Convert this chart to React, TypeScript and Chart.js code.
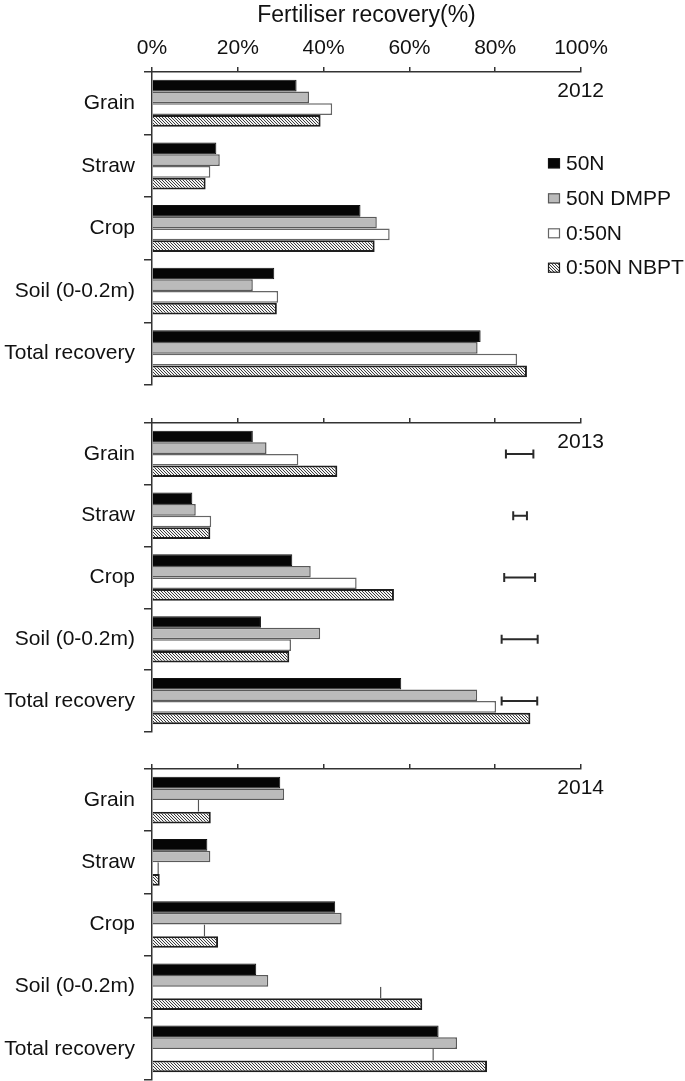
import React, { useEffect, useRef } from 'react';
import { Chart, registerables } from 'chart.js';

Chart.register(...registerables);

const FONT = '"Liberation Sans", Arial, Helvetica, sans-serif';
Chart.defaults.font.family = FONT;

// ---------- data ----------
const categories = ['Grain', 'Straw', 'Crop', 'Soil (0-0.2m)', 'Total recovery'];
const seriesNames = ['50N', '50N DMPP', '0:50N', '0:50N NBPT'];
const xTickValues = [0, 20, 40, 60, 80, 100];
const axisTitle = 'Fertiliser recovery(%)';

const r2012_50N = [33.7, 15.0, 48.6, 28.5, 76.6];
const r2012_DMPP = [36.6, 15.8, 52.4, 23.5, 75.9];
const r2012_050N = [42.0, 13.6, 55.4, 29.4, 85.1];
const r2012_NBPT = [39.3, 12.5, 51.9, 29.1, 87.4];

const r2013_50N = [23.5, 9.4, 32.7, 25.4, 58.1];
const r2013_DMPP = [26.7, 10.2, 37.0, 39.2, 75.8];
const r2013_050N = [34.1, 13.8, 47.7, 32.4, 80.2];
const r2013_NBPT = [43.2, 13.6, 56.4, 32.0, 88.2];

// LSD bars shown in the 2013 panel (start and end, %)
const lsd2013Low = [82.5, 84.2, 82.1, 81.5, 81.5];
const lsd2013High = [88.9, 87.4, 89.3, 89.9, 89.8];

const r2014_50N = [29.9, 12.9, 42.7, 24.3, 66.8];
const r2014_DMPP = [30.8, 13.6, 44.2, 27.1, 71.1];
const r2014_050N = [11.0, 1.6, 12.4, 53.5, 65.7];
const r2014_NBPT = [13.7, 1.8, 15.4, 63.0, 78.1];

// ---------- styling helpers ----------
function makeHatch(): CanvasPattern | string {
  const c = document.createElement('canvas');
  c.width = 3;
  c.height = 3;
  const g = c.getContext('2d');
  if (!g) return '#bbb';
  g.fillStyle = '#f4f4f4';
  g.fillRect(0, 0, 3, 3);
  g.fillStyle = '#3c3c3c';
  for (let i = 0; i < 3; i++) g.fillRect(i, i, 1, 1);
  const p = g.createPattern(c, 'repeat');
  return p || '#bbb';
}

type PanelCfg = {
  year: string;
  top: number;
  axisH: number;
  height: number;
  padBottom: number;
  series: number[][];
  first: boolean;
  whiteEndOnly: boolean;
  errLow?: number[];
  errHigh?: number[];
};

const panels: PanelCfg[] = [
  { year: '2012', top: 0, axisH: 72, height: 392, padBottom: 7, series: [r2012_50N, r2012_DMPP, r2012_050N, r2012_NBPT], first: true, whiteEndOnly: false },
  { year: '2013', top: 400, axisH: 23, height: 340, padBottom: 8, series: [r2013_50N, r2013_DMPP, r2013_050N, r2013_NBPT], first: false, whiteEndOnly: false, errLow: lsd2013Low, errHigh: lsd2013High },
  { year: '2014', top: 745, axisH: 24, height: 336, padBottom: 1, series: [r2014_50N, r2014_DMPP, r2014_050N, r2014_NBPT], first: false, whiteEndOnly: true },
];

const W = 685;

function Panel({ cfg }: { cfg: PanelCfg }) {
  const ref = useRef<HTMLCanvasElement | null>(null);
  useEffect(() => {
    const canvas = ref.current;
    if (!canvas) return;
    const hatch = makeHatch();
    const fills = ['#060606', '#bbbbbb', '#ffffff', hatch];
    const borders = ['#111', '#5a5a5a', '#666', '#1e1e1e'];
    const bw: any[] = [1, 1.5, 1.5, 2];
    const bc: string[] = [...borders];
    if (cfg.whiteEndOnly) {
      bw[2] = { top: 0, bottom: 0, left: 0, right: 1.5 };
      bc[2] = '#555';
    }

    const datasets = cfg.series.map((vals, i) => ({
      label: seriesNames[i],
      data: vals,
      backgroundColor: fills[i] as any,
      borderColor: bc[i],
      borderWidth: bw[i],
      borderSkipped: 'start' as any,
      categoryPercentage: 0.75,
      barPercentage: 1.0,
    }));

    const overlay = {
      id: 'overlay',
      afterDatasetsDraw(chart: any) {
        const ctx = chart.ctx as CanvasRenderingContext2D;
        const { top, right } = chart.chartArea;
        ctx.save();
        ctx.fillStyle = '#111';
        ctx.font = `21px ${FONT}`;
        ctx.textAlign = 'right';
        ctx.textBaseline = 'middle';
        ctx.fillText(cfg.year, right + 23, top + 19.5);

        if (cfg.errLow && cfg.errHigh) {
          const xs = chart.scales.x;
          const ys = chart.scales.y;
          ctx.strokeStyle = '#2a2a2a';
          ctx.lineWidth = 2;
          for (let i = 0; i < cfg.errLow.length; i++) {
            const x1 = xs.getPixelForValue(cfg.errLow[i]);
            const x2 = xs.getPixelForValue(cfg.errHigh[i]);
            const y = ys.getPixelForValue(i);
            ctx.beginPath();
            ctx.moveTo(x1, y);
            ctx.lineTo(x2, y);
            ctx.moveTo(x1, y - 4.5);
            ctx.lineTo(x1, y + 4.5);
            ctx.moveTo(x2, y - 4.5);
            ctx.lineTo(x2, y + 4.5);
            ctx.stroke();
          }
        }

        if (cfg.first) {
          const bx = right - 33;
          const rows = [91.3, 126.3, 161.3, 195.7];
          ctx.textAlign = 'left';
          for (let i = 0; i < seriesNames.length; i++) {
            const cy = top + rows[i];
            ctx.fillStyle = fills[i] as any;
            ctx.fillRect(bx, cy - 5, 12, 10);
            ctx.strokeStyle = borders[i];
            ctx.lineWidth = 1.2;
            ctx.strokeRect(bx + 0.5, cy - 4.5, 11, 9);
            ctx.fillStyle = '#111';
            ctx.fillText(seriesNames[i], bx + 18, cy + 0.5);
          }
        }
        ctx.restore();
      },
    };

    const chart = new Chart(canvas, {
      type: 'bar',
      data: { labels: categories, datasets },
      options: {
        indexAxis: 'y',
        responsive: false,
        animation: false,
        devicePixelRatio: 1,
        layout: { padding: { left: 0, right: 104, top: 0, bottom: cfg.padBottom } },
        plugins: { legend: { display: false }, tooltip: { enabled: false } },
        scales: {
          x: {
            position: 'top',
            min: 0,
            max: 100,
            afterBuildTicks: (s: any) => {
              s.ticks = xTickValues.map((v) => ({ value: v }));
            },
            ticks: {
              display: cfg.first,
              callback: (v: any) => `${v}%`,
              font: { size: 21 },
              color: '#111',
              padding: 6,
              maxRotation: 0,
            },
            grid: { drawOnChartArea: false, drawTicks: true, tickLength: 5, color: '#333', lineWidth: 1.5 },
            border: { display: true, color: '#333', width: 1.5 },
            title: {
              display: cfg.first,
              text: axisTitle,
              font: { size: 23 },
              color: '#111',
              padding: { top: 2, bottom: 0 },
            },
            afterFit: (s: any) => {
              s.height = cfg.axisH;
              s.paddingLeft = 0;
              s.paddingRight = 0;
            },
          },
          y: {
            ticks: { font: { size: 21 }, color: '#111', padding: 9 },
            grid: { offset: true, drawOnChartArea: false, drawTicks: true, tickLength: 8, color: '#333', lineWidth: 1.5 },
            border: { display: true, color: '#333', width: 1.5 },
            afterFit: (s: any) => {
              s.width = 152;
              s.paddingTop = 0;
              s.paddingBottom = 0;
            },
          },
        },
      } as any,
      plugins: [overlay],
    });
    return () => chart.destroy();
  }, [cfg]);

  return (
    <canvas
      ref={ref}
      width={W}
      height={cfg.height}
      style={{ position: 'absolute', left: 0, top: cfg.top, width: W, height: cfg.height, display: 'block' }}
    />
  );
}

export default function App() {
  return (
    <div style={{ position: 'absolute', left: 0, top: 0, width: W, height: 1081, background: '#fff', overflow: 'hidden' }}>
      {panels.map((p) => (
        <Panel key={p.year} cfg={p} />
      ))}
    </div>
  );
}
